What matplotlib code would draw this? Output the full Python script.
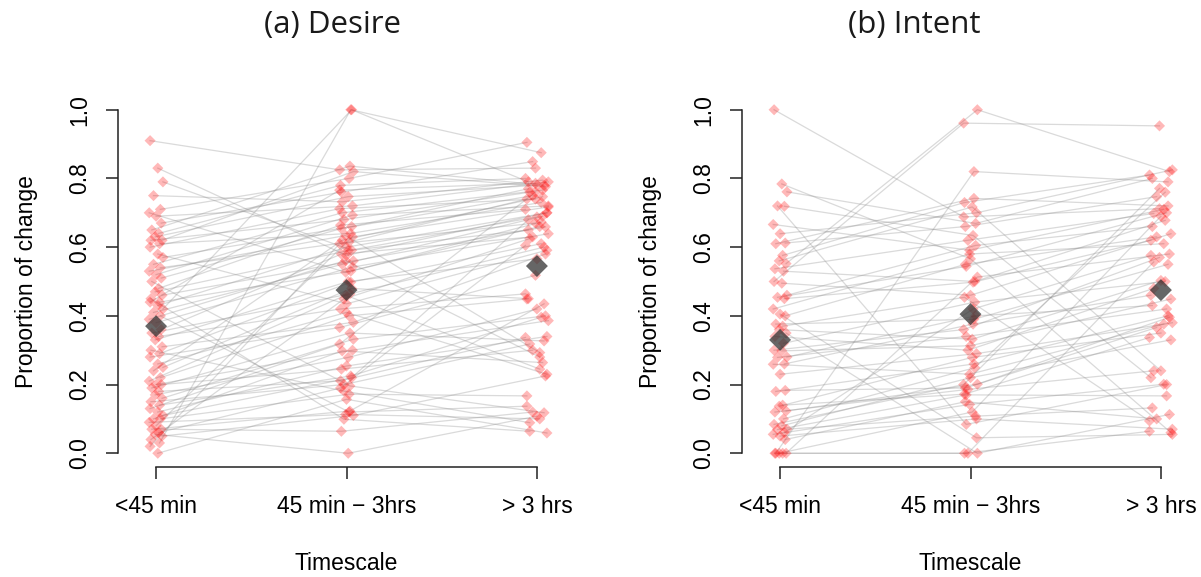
import matplotlib
matplotlib.use("Agg")
import matplotlib.pyplot as plt
import numpy as np

# ---------------- data ----------------
categories = ["<45 min", "45 min \u2212 3hrs", "> 3 hrs"]
y_ticks = [0.0, 0.2, 0.4, 0.6, 0.8, 1.0]
y_ticklabels = ["0.0", "0.2", "0.4", "0.6", "0.8", "1.0"]
titles = ["(a) Desire", "(b) Intent"]

desire_short = [0.91, 0.83, 0.79, 0.75, 0.71, 0.70, 0.69, 0.67, 0.65, 0.64,
                0.63, 0.62, 0.62, 0.61, 0.60, 0.58, 0.57, 0.55, 0.54, 0.53,
                0.52, 0.51, 0.50, 0.48, 0.47, 0.46, 0.45, 0.44, 0.44, 0.43,
                0.42, 0.41, 0.40, 0.39, 0.38, 0.36, 0.35, 0.34, 0.33, 0.31,
                0.30, 0.29, 0.28, 0.26, 0.25, 0.24, 0.22, 0.21, 0.20, 0.20,
                0.19, 0.18, 0.17, 0.16, 0.15, 0.14, 0.13, 0.12, 0.11, 0.10,
                0.10, 0.09, 0.08, 0.07, 0.07, 0.06, 0.055, 0.05, 0.04, 0.03,
                0.02, 0.00]
desire_mid = [0.825, 0.576, 0.591, 0.732, 0.80, 0.527, 0.72, 0.76, 0.836, 0.78,
              0.747, 0.82, 0.68, 0.64, 0.712, 0.435, 0.66, 0.70, 0.615, 0.634,
              0.693, 0.654, 0.196, 0.664, 0.59, 0.56, 0.099, 0.53, 0.766, 0.60,
              1.0, 0.55, 0.12, 0.561, 0.542, 0.58, 0.464, 0.42, 0.50, 0.381,
              0.181, 0.498, 0.366, 0.41, 0.48, 0.62, 0.40, 0.46, 0.30, 0.245,
              0.35, 0.211, 0.279, 0.332, 0.20, 0.225, 0.318, 0.254, 0.22, 0.298,
              0.172, 0.113, 0.63, 0.064, 0.123, 0.19, 0.0, 0.11, 0.449, 1.0,
              0.61, 0.157]
desire_long = [0.83, 0.70, 0.65, 0.795, 0.905, 0.66, 0.79, 0.849, 0.78, 0.80,
               0.78, 0.776, 0.76, 0.73, 0.74, 0.591, 0.77, 0.766, 0.74, 0.293,
               0.72, 0.75, 0.118, 0.71, 0.688, 0.659, 0.064, 0.673, 0.786, 0.70,
               0.79, 0.69, 0.137, 0.28, 0.639, 0.63, 0.60, 0.464, 0.566, 0.58,
               0.089, 0.61, 0.518, 0.23, 0.45, 0.747, 0.449, 0.245, 0.386, 0.30,
               0.327, 0.337, 0.42, 0.40, 0.318, 0.396, 0.76, 0.34, 0.68, 0.264,
               0.167, 0.10, 0.717, 0.12, 0.435, 0.605, 0.108, 0.225, 0.625, 0.875,
               0.67, 0.059]
desire_means = [0.37, 0.475, 0.545]

intent_short = [1.0, 0.784, 0.761, 0.72, 0.719, 0.666, 0.639, 0.612, 0.61, 0.576,
                0.56, 0.552, 0.537, 0.53, 0.50, 0.495, 0.46, 0.454, 0.45, 0.42,
                0.405, 0.40, 0.376, 0.37, 0.36, 0.35, 0.34, 0.32, 0.30, 0.298,
                0.28, 0.279, 0.26, 0.259, 0.23, 0.183, 0.18, 0.14, 0.137, 0.123,
                0.12, 0.10, 0.084, 0.08, 0.07, 0.069, 0.06, 0.055, 0.05, 0.04,
                0.0, 0.0, 0.0, 0.0, 0.0]
intent_mid = [0.688, 0.566, 0.669, 0.084, 0.634, 0.591, 0.70, 0.66, 0.742, 0.73,
              0.717, 1.0, 0.62, 0.50, 0.961, 0.46, 0.605, 0.544, 0.498, 0.58,
              0.045, 0.55, 0.39, 0.454, 0.332, 0.0, 0.30, 0.44, 0.36, 0.313,
              0.40, 0.34, 0.376, 0.23, 0.29, 0.19, 0.26, 0.172, 0.279, 0.201,
              0.186, 0.249, 0.20, 0.22, 0.108, 0.17, 0.42, 0.142, 0.10, 0.15,
              0.82, 0.0, 0.12, 0.513, 0.0]
intent_long = [0.712, 0.06, 0.80, 0.20, 0.22, 0.71, 0.825, 0.747, 0.72, 0.81,
               0.24, 0.82, 0.698, 0.678, 0.953, 0.639, 0.66, 0.70, 0.62, 0.61,
               0.055, 0.63, 0.55, 0.094, 0.503, 0.113, 0.48, 0.50, 0.57, 0.449,
               0.43, 0.42, 0.46, 0.376, 0.38, 0.366, 0.40, 0.337, 0.35, 0.396,
               0.24, 0.76, 0.771, 0.33, 0.132, 0.167, 0.576, 0.201, 0.07, 0.10,
               0.79, 0.064, 0.69, 0.58, 0.557]
intent_means = [0.33, 0.405, 0.475]

# ---------------- style ----------------
JITTER = [-0.035, 0.010, 0.040, -0.015, 0.025, -0.040, 0.000, 0.030,
          -0.025, 0.015, -0.005, 0.035, -0.030, 0.020]
JIT_SCALE = [0.9, 0.9, 1.5]
TICK_FONT = ["Liberation Sans", "DejaVu Sans"]
TITLE_FONT = ["Open Sans", "DejaVu Sans"]
FS = 16.5

W, H = 1201, 577
fig = plt.figure(figsize=(W / 100, H / 100), dpi=100)

def px_axes(left_px, right_px, top_px, bottom_px):
    return fig.add_axes([left_px / W, 1 - bottom_px / H,
                         (right_px - left_px) / W, (bottom_px - top_px) / H])

panels = [
    (px_axes(118, 575, 96, 467), [desire_short, desire_mid, desire_long], desire_means, titles[0], 332),
    (px_axes(742, 1199, 96, 467), [intent_short, intent_mid, intent_long], intent_means, titles[1], 914),
]

for ax, cols, means, title, title_x in panels:
    n = len(cols[0])
    xs = []
    for c in range(3):
        xc = [c + 1 + JITTER[(i + 5 * c) % len(JITTER)] * JIT_SCALE[c] for i in range(n)]
        xs.append(xc)
    for i in range(n):
        ax.plot([xs[0][i], xs[1][i], xs[2][i]],
                [cols[0][i], cols[1][i], cols[2][i]],
                color=(0.55, 0.55, 0.55), alpha=0.32, lw=0.9, zorder=1)
    for c in range(3):
        ax.scatter(xs[c], cols[c], marker="D", s=32, color="red", alpha=0.28,
                   edgecolors="none", zorder=2)
    ax.scatter([1, 2, 3], means, marker="D", s=125, color="#333333", alpha=0.75,
               edgecolors="none", zorder=3)

    ax.set_xlim(0.8, 3.2)
    ax.set_ylim(-0.04, 1.04)
    for s in ["top", "right"]:
        ax.spines[s].set_visible(False)
    ax.spines["left"].set_bounds(0, 1)
    ax.spines["bottom"].set_bounds(1, 3)
    for s in ["left", "bottom"]:
        ax.spines[s].set_linewidth(1.1)
        ax.spines[s].set_color("#222222")
    ax.set_xticks([1, 2, 3])
    ax.set_xticklabels(categories, family=TICK_FONT, fontsize=FS)
    ax.set_yticks(y_ticks)
    ax.set_yticklabels(y_ticklabels, family=TICK_FONT, fontsize=FS, rotation=90, va="center")
    ax.tick_params(axis="both", length=8.5, width=1.1, color="#222222")
    ax.tick_params(axis="x", pad=12)
    ax.tick_params(axis="y", pad=11)
    ax.set_xlabel("Timescale", family=TICK_FONT, fontsize=FS)
    ax.xaxis.set_label_coords(0.5, -(563 - 467) / 371)
    ax.xaxis.label.set_va("center")
    ax.set_ylabel("Proportion of change", family=TICK_FONT, fontsize=FS)
    ax.yaxis.set_label_coords(-(118 - 26) / 457, 0.5)
    ax.yaxis.label.set_va("center")
    ax.patch.set_visible(False)

    fig.text(title_x / W, 1 - 25 / H, title, ha="center", va="center",
             family=TITLE_FONT, fontsize=22.5, color="#1a1a1a")

fig.savefig("out.png", dpi=100)
